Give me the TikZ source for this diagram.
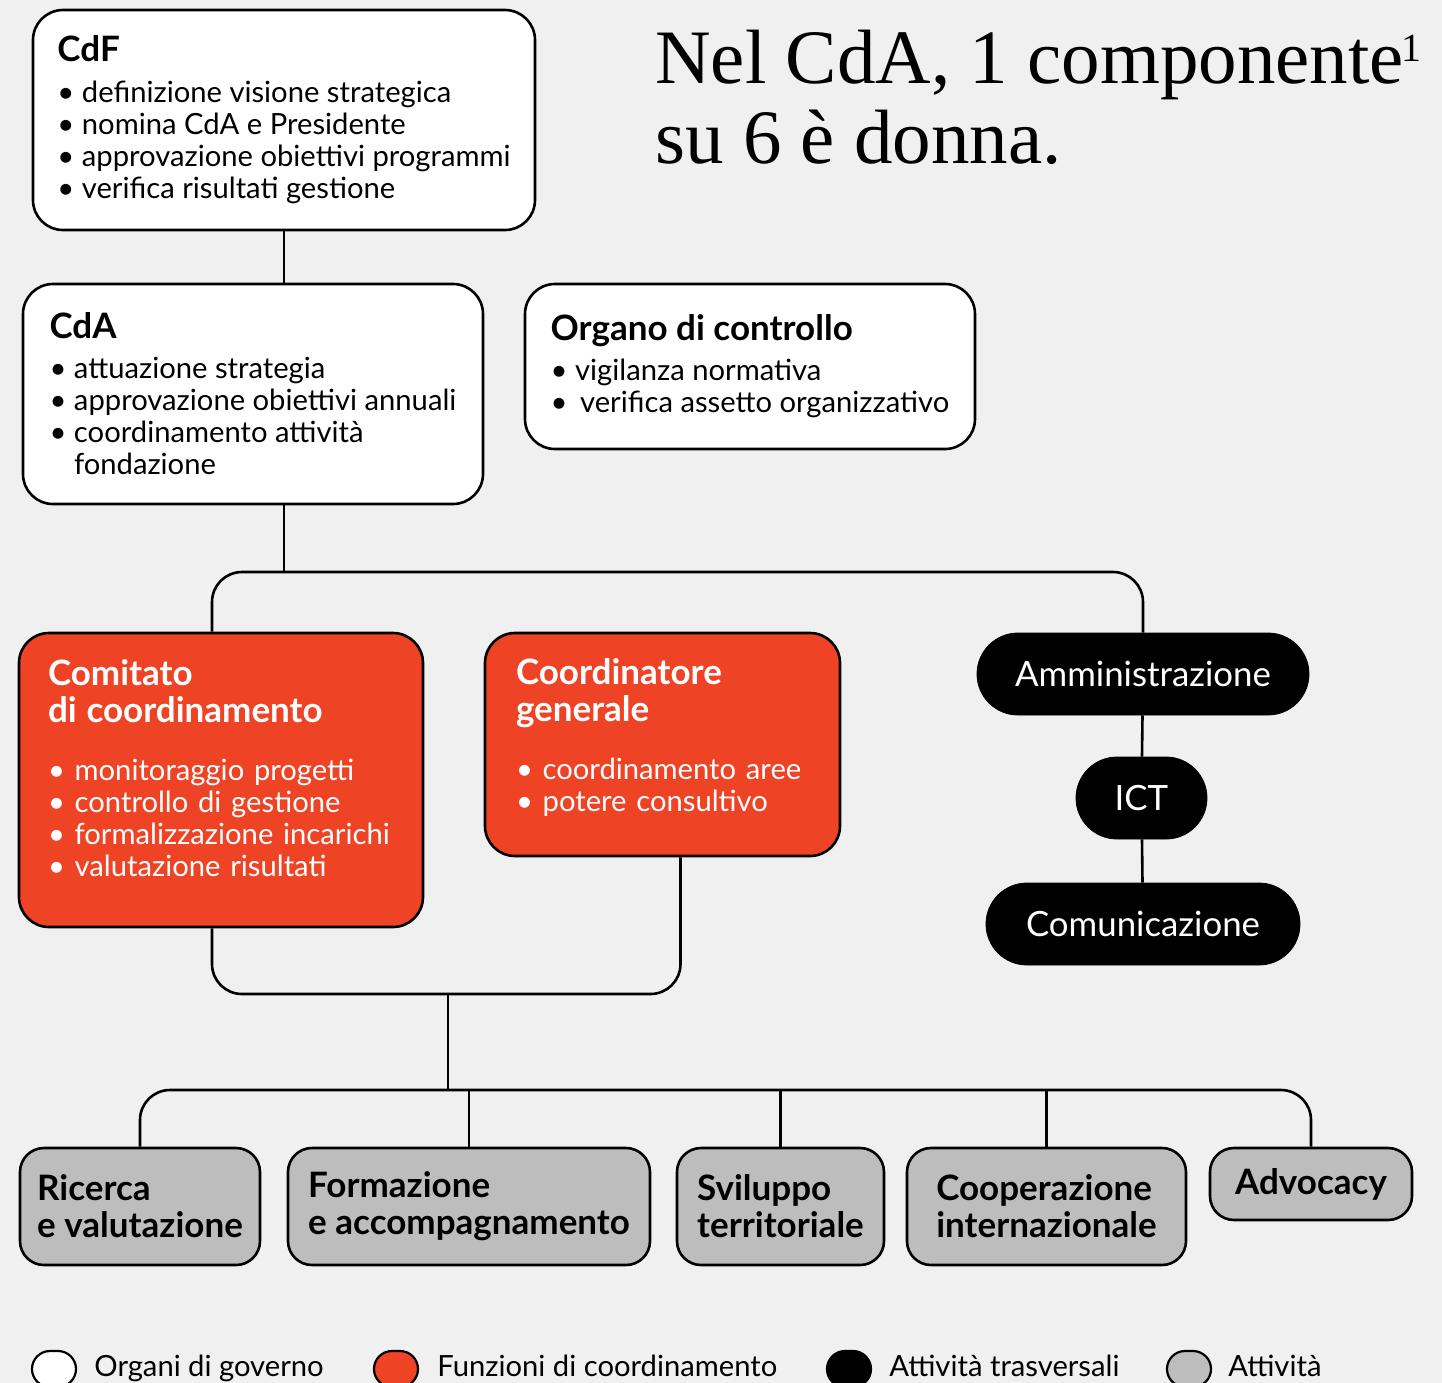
\documentclass[tikz,border=0pt]{standalone}
\usepackage{fontspec}
\setmainfont{Lato}
\newfontfamily\titlefont{Liberation Serif}
\usepackage{tikz}
\definecolor{bgcol}{HTML}{F0F0F0}
\definecolor{orgcol}{HTML}{EF4325}
\definecolor{actcol}{HTML}{BDBDBD}
\tikzset{
	govbox/.style={draw, line width=1.3pt, fill=white, rounded corners=15pt, align=left, font=\fontsize{14.6}{16}\selectfont},
	coordbox/.style={govbox, fill=orgcol, text=white},
	actbox/.style={draw, line width=1.3pt, fill=actcol, rounded corners=12pt, align=left, minimum height=58.5pt, font=\fontsize{17.5}{18.5}\selectfont\bfseries},
	pill/.style={draw, fill=black, text=white, rounded corners=20.5pt, minimum height=41pt, font=\fontsize{17.4}{19}\selectfont},
	link/.style={line width=1.3pt},
	legendkey/.style={draw, line width=1.1pt, rounded corners=9pt, minimum width=22pt, minimum height=18pt},
	legendtext/.style={anchor=base west, inner sep=0pt, font=\fontsize{14.6}{16}\selectfont}
}
\newcommand{\boxtitle}[1]{{\fontsize{17.5}{19}\selectfont\bfseries #1}}
\newcommand{\footmark}[1]{\kern-1pt\raisebox{11pt}{\fontsize{20}{20}\selectfont #1}}

\begin{document}
\begin{tikzpicture}[x=0.5pt, y=-0.5pt]

	\fill[bgcol] (0,0) rectangle (1442,1383);
	\useasboundingbox (0,0) rectangle (1442,1383);

	\node[anchor=base west, inner sep=0pt, align=left, font=\titlefont\fontsize{38.5}{40}\selectfont] (headline) at (655,163)
		{Nel CdA, 1 componente\footmark{1}\\su 6 è donna.};

	\node[govbox, minimum width=251pt, minimum height=110pt] (cdf) at (284,120) {%
		\boxtitle{CdF}\\[4.5pt]
		\textbullet\ definizione visione strategica\\
		\textbullet\ nomina CdA e Presidente\\
		\textbullet\ approvazione obiettivi programmi\\
		\textbullet\ verifica risultati gestione};

	\node[govbox, minimum width=230pt, minimum height=110pt] (cda) at (253,394) {%
		\boxtitle{CdA}\\[4pt]
		\textbullet\ attuazione strategia\\
		\textbullet\ approvazione obiettivi annuali\\
		\textbullet\ coordinamento attività\\
		\phantom{\textbullet\ }fondazione};

	\node[govbox, minimum width=225pt, minimum height=82.5pt] (organo) at (750,366.5) {%
		\boxtitle{Organo di controllo}\\[4pt]
		\textbullet\ vigilanza normativa\\
		\textbullet\ \hspace{2.5pt}verifica assetto organizzativo};

	\node[coordbox, minimum width=202pt, minimum height=147pt, inner xsep=14.5pt, text width=173pt] (comitato) at (221,780) {%
		\boxtitle{Comitato}\\[2.5pt]
		\boxtitle{di coordinamento}\\[13pt]
		\textbullet\ monitoraggio progetti\\
		\textbullet\ controllo di gestione\\
		\textbullet\ formalizzazione incarichi\\
		\textbullet\ valutazione risultati\rule[-12pt]{0pt}{12pt}};

	\node[coordbox, minimum width=177.5pt, minimum height=111.5pt, inner xsep=15.5pt, text width=146.5pt] (coord) at (662.5,744.5) {%
		\boxtitle{Coordinatore}\\[2.5pt]
		\boxtitle{generale}\\[13pt]
		\textbullet\ coordinamento aree\\
		\textbullet\ potere consultivo\rule[-10pt]{0pt}{10pt}};

	\node[pill, minimum width=166pt] (amm) at (1143,674) {Amministrazione};
	\node[pill, minimum width=65.5pt] (ict) at (1141.5,798) {ICT};
	\node[pill, minimum width=157pt] (comm) at (1143,924) {Comunicazione};

	\node[actbox, minimum width=120pt] (ricerca) at (140,1206.5) {Ricerca\\e valutazione};
	\node[actbox, minimum width=181pt] (formazione) at (469,1206.5) {Formazione\\e accompagnamento};
	\node[actbox, minimum width=103.5pt] (sviluppo) at (780.5,1206.5) {Sviluppo\\territoriale};
	\node[actbox, minimum width=139.5pt] (cooperazione) at (1046.5,1206.5) {Cooperazione\\internazionale};
	\node[actbox, minimum width=101pt, minimum height=36pt] (advocacy) at (1311,1184) {Advocacy};

	\coordinate (split) at (284,572);
	\coordinate (merge) at (448,994);
	\coordinate (hub) at (448,1090);

	\draw[link] (cdf.south) -- (cdf.south |- cda.north);
	\draw[link] (cdf.south |- cda.south) -- (split);
	\draw[link, rounded corners=15pt] ([xshift=-4.5pt]comitato.north) |- (split) -| (amm.north);
	\draw[link] (amm) -- (ict) -- (comm);
	\draw[link, rounded corners=15pt] ([xshift=-4.5pt]comitato.south) |- (merge) -| ([xshift=9pt]coord.south);
	\draw[link] (merge) -- (hub);
	\draw[link, rounded corners=15pt] (ricerca.north) |- (hub) -| (advocacy.north);
	\foreach \n in {formazione, sviluppo, cooperazione}
		\draw[link] (\n.north) -- (\n.north |- hub);

	\node[legendkey, fill=white] (keygov) at (54,1369) {};
	\node[legendtext] (labgov) at (94,1376) {Organi di governo};
	\node[legendkey, fill=orgcol] (keycoord) at (396,1369) {};
	\node[legendtext] (labcoord) at (437,1376) {Funzioni di coordinamento};
	\node[legendkey, fill=black] (keytrasv) at (849,1369) {};
	\node[legendtext] (labtrasv) at (889,1376) {Attività trasversali};
	\node[legendkey, fill=actcol] (keyact) at (1189,1369) {};
	\node[legendtext] (labact) at (1228,1376) {Attività};

\end{tikzpicture}
\end{document}
